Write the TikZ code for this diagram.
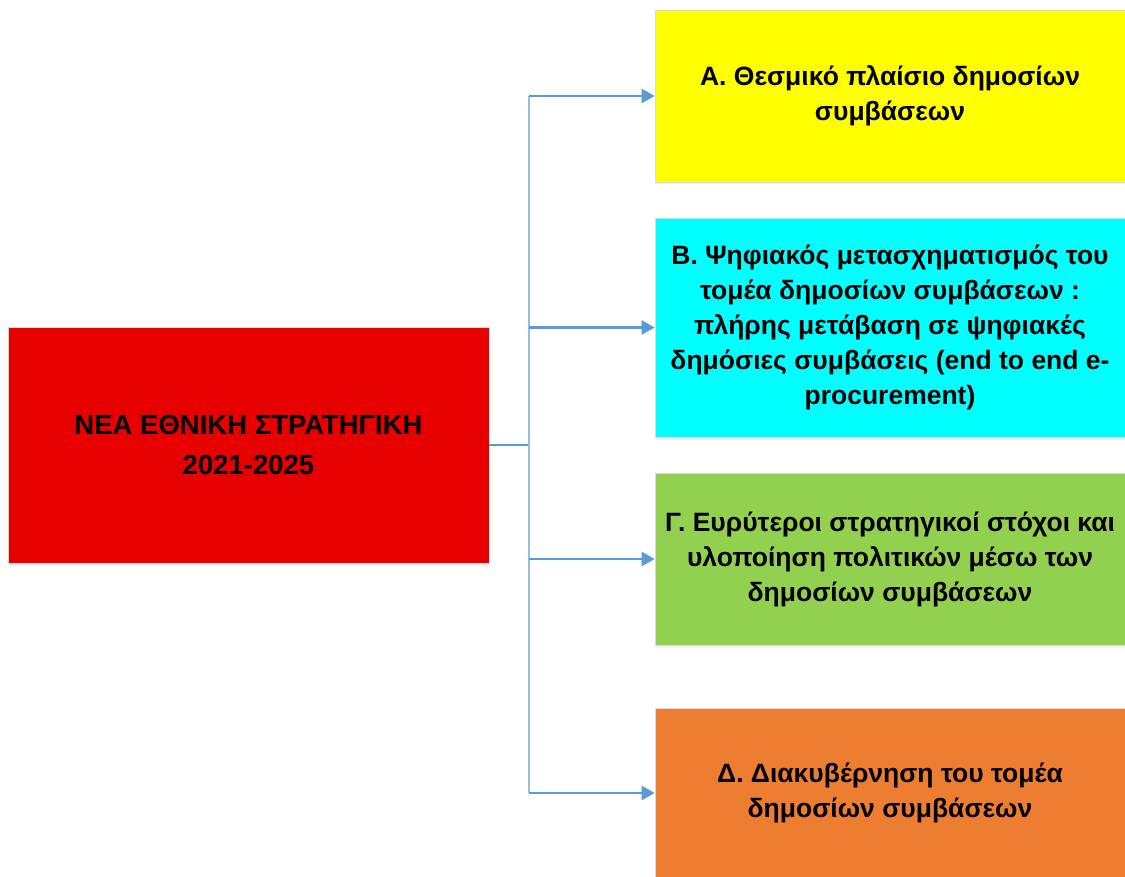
\documentclass[tikz,border=0pt]{standalone}
\usepackage{fontspec}
\setmainfont{Liberation Sans}
\usepackage{xcolor}
\usetikzlibrary{arrows.meta,shadows}

\definecolor{stratred}{HTML}{E60000}
\definecolor{axisyellow}{HTML}{FFFF00}
\definecolor{axiscyan}{HTML}{00FFFF}
\definecolor{axisgreen}{HTML}{92D050}
\definecolor{axisorange}{HTML}{ED7D31}
\definecolor{linkblue}{HTML}{5B9BD5}

\begin{document}
\begin{tikzpicture}[x=1pt,y=-1pt,
  box/.style={draw=black!15, line width=0.6pt, inner sep=0pt, align=center,
    minimum width=470pt, font=\fontsize{26.5}{35}\selectfont\bfseries,
    drop shadow={opacity=0.12, shadow xshift=1pt, shadow yshift=-2.5pt}},
  link/.style={draw=linkblue, line width=2.4pt},
  tip/.style={-{Triangle[length=13pt,width=14pt]}}]
\useasboundingbox (0,0) rectangle (1125,877);
% strategy and its four axes
\node[box, fill=stratred, minimum width=481pt, minimum height=236pt,
  font=\fontsize{27.5}{40}\selectfont\bfseries] (strategy) at (248.5,445)
  {ΝΕΑ ΕΘΝΙΚΗ ΣΤΡΑΤΗΓΙΚΗ\\2021-2025};
\node[box, fill=axisyellow, minimum height=172pt] (axisA) at (890,96)
  {Α. Θεσμικό πλαίσιο δημοσίων\\συμβάσεων};
\node[box, fill=axiscyan, minimum height=219pt] (axisB) at (890,327.5)
  {Β. Ψηφιακός μετασχηματισμός του\\τομέα δημοσίων συμβάσεων :\\πλήρης μετάβαση σε ψηφιακές\\δημόσιες συμβάσεις (end to end e-\\procurement)};
\node[box, fill=axisgreen, minimum height=172pt] (axisC) at (890,559)
  {Γ. Ευρύτεροι στρατηγικοί στόχοι και\\υλοποίηση πολιτικών μέσω των\\δημοσίων συμβάσεων};
\node[box, fill=axisorange, minimum height=170pt] (axisD) at (890,793)
  {Δ. Διακυβέρνηση του τομέα\\δημοσίων συμβάσεων};
% connectors
\coordinate (split) at (529,445);
\draw[link] (strategy.east) -- (split);
\draw[link, draw=linkblue!65] (split |- axisA.west) -- (split |- axisD.west);
\foreach \n in {axisA,axisB,axisC,axisD}
  \draw[link, tip] (split |- \n.west) -- (\n.west);
\end{tikzpicture}
\end{document}
